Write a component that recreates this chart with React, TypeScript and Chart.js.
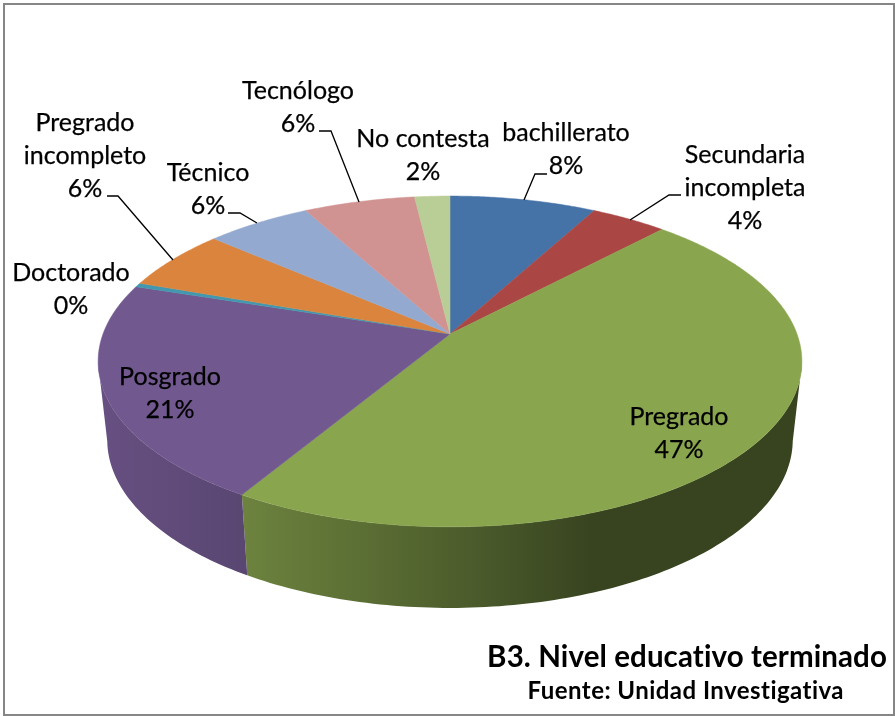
import React, { useEffect, useRef } from "react";
import { Chart, registerables } from "chart.js";

Chart.register(...registerables);

const categories = ["bachillerato", "Secundaria incompleta", "Pregrado", "Posgrado", "Doctorado", "Pregrado incompleto", "Técnico", "Tecnólogo", "No contesta"];
const shares = [7.9, 4.1, 46.6, 21.4, 0.4, 6.0, 5.7, 6.0, 1.9];
const sliceColors = ["#4572A7", "#AA4643", "#89A54E", "#71588F", "#4198AF", "#DB843D", "#93A9CF", "#D19392", "#B9CD96"];
const titleText = "B3. Nivel educativo terminado";
const sourceText = "Fuente: Unidad Investigativa";

// Label layout: centre x, first-line y, name lines
const labelLayout = [
  { x: 566, y: 133, lines: ["bachillerato"] },
  { x: 745, y: 155, lines: ["Secundaria", "incompleta"] },
  { x: 679, y: 417, lines: ["Pregrado"] },
  { x: 170, y: 377, lines: ["Posgrado"] },
  { x: 71, y: 273, lines: ["Doctorado"] },
  { x: 85, y: 123, lines: ["Pregrado", "incompleto"] },
  { x: 208, y: 173, lines: ["Técnico"] },
  { x: 298, y: 91, lines: ["Tecnólogo"] },
  { x: 423, y: 139, lines: ["No contesta"] },
];
const leaderLines = [
  [[547, 174], [535, 174], [524, 200]],
  [[681, 195], [669, 195], [630, 220]],
  [[107, 196], [118, 196], [173, 260]],
  [[228, 213], [240, 213], [257, 223]],
  [[319, 131], [331, 131], [359, 202]],
];
const LINE_HEIGHT = 33;
const FONT = "Lato, 'Open Sans', sans-serif";

// Perspective projection of the unit disc (top face and bottom face)
const CX = 450;
const PERSP = -0.166;
const topFace = { a: 347, b: 105.4, c: 334 };
const botFace = { a: 338, b: 95, c: 412 };
const project = (f: { a: number; b: number; c: number }, t: number): [number, number] => {
  const u = Math.sin(t);
  const v = -Math.cos(t);
  const d = 1 + PERSP * v;
  return [CX + (f.a * u) / d, (f.b * v + f.c) / d];
};
const wallShade = [
  [98, 0.91],
  [246, 0.79],
  [400, 0.63],
  [500, 0.52],
  [590, 0.41],
  [802, 0.41],
];
const WALL_FROM = (100 * Math.PI) / 180;
const WALL_TO = (260 * Math.PI) / 180;
const STEP = Math.PI / 180;

const shadeHex = (hex: string, k: number) => {
  const n = parseInt(hex.slice(1), 16);
  const r = Math.round(((n >> 16) & 255) * k);
  const g = Math.round(((n >> 8) & 255) * k);
  const b = Math.round((n & 255) * k);
  return `rgb(${r},${g},${b})`;
};

const pie3d = {
  id: "pie3d",
  beforeDatasetsDraw(chart: any) {
    const ctx = chart.ctx as CanvasRenderingContext2D;
    const arcs = chart.getDatasetMeta(0).data;
    const span = (el: any) => [el.startAngle + Math.PI / 2, el.endAngle + Math.PI / 2];
    // side walls
    arcs.forEach((el: any, i: number) => {
      const [s, e] = span(el);
      const t1 = Math.max(s, WALL_FROM);
      const t2 = Math.min(e, WALL_TO);
      if (t2 <= t1) return;
      ctx.beginPath();
      for (let t = t1; t < t2; t += STEP) ctx.lineTo(...project(topFace, t));
      ctx.lineTo(...project(topFace, t2));
      for (let t = t2; t > t1; t -= STEP) ctx.lineTo(...project(botFace, t));
      ctx.lineTo(...project(botFace, t1));
      ctx.closePath();
      const g = ctx.createLinearGradient(98, 0, 802, 0);
      wallShade.forEach(([x, k]) => g.addColorStop((x - 98) / 704, shadeHex(sliceColors[i], k)));
      ctx.fillStyle = g;
      ctx.fill();
    });
    // top face
    arcs.forEach((el: any, i: number) => {
      const [s, e] = span(el);
      ctx.beginPath();
      ctx.moveTo(CX, topFace.c);
      for (let t = s; t < e; t += STEP / 2) ctx.lineTo(...project(topFace, t));
      ctx.lineTo(...project(topFace, e));
      ctx.closePath();
      ctx.fillStyle = sliceColors[i];
      ctx.strokeStyle = sliceColors[i];
      ctx.lineWidth = 0.5;
      ctx.fill();
      ctx.stroke();
    });
    return false;
  },
  afterDraw(chart: any) {
    const ctx = chart.ctx as CanvasRenderingContext2D;
    const total = shares.reduce((a, b) => a + b, 0);
    ctx.save();
    // frame
    ctx.strokeStyle = "#868686";
    ctx.lineWidth = 2;
    ctx.strokeRect(4, 4, 890, 711);
    // leaders
    ctx.strokeStyle = "#000";
    ctx.lineWidth = 1.3;
    leaderLines.forEach((pts) => {
      ctx.beginPath();
      pts.forEach(([x, y]) => ctx.lineTo(x, y));
      ctx.stroke();
    });
    // data labels
    ctx.fillStyle = "#000";
    ctx.strokeStyle = "#000";
    ctx.lineWidth = 0.25;
    ctx.textAlign = "center";
    ctx.textBaseline = "middle";
    ctx.font = `25px ${FONT}`;
    labelLayout.forEach((l, i) => {
      const rows = [...l.lines, `${Math.round((shares[i] / total) * 100)}%`];
      rows.forEach((row, r) => {
        ctx.fillText(row, l.x, l.y + r * LINE_HEIGHT);
        ctx.strokeText(row, l.x, l.y + r * LINE_HEIGHT);
      });
    });
    // caption
    ctx.textAlign = "right";
    ctx.font = `bold 29.5px ${FONT}`;
    (ctx as any).letterSpacing = "0.1px";
    ctx.fillText(titleText, 887, 657);
    ctx.font = `bold 24px ${FONT}`;
    (ctx as any).letterSpacing = "0.46px";
    ctx.fillText(sourceText, 844, 691);
    ctx.restore();
  },
};

export default function App() {
  const ref = useRef<HTMLCanvasElement>(null);
  useEffect(() => {
    const chart = new Chart(ref.current!, {
      type: "pie",
      data: {
        labels: categories,
        datasets: [{ data: shares, backgroundColor: sliceColors, borderWidth: 0 }],
      },
      options: {
        animation: false,
        responsive: false,
        plugins: { legend: { display: false }, tooltip: { enabled: false } },
      },
      plugins: [pie3d],
    });
    return () => chart.destroy();
  }, []);
  return (
    <div style={{ position: "absolute", left: 0, top: 0, width: 895, height: 716, background: "#fff" }}>
      <canvas ref={ref} width={895} height={716} style={{ display: "block" }} />
    </div>
  );
}
